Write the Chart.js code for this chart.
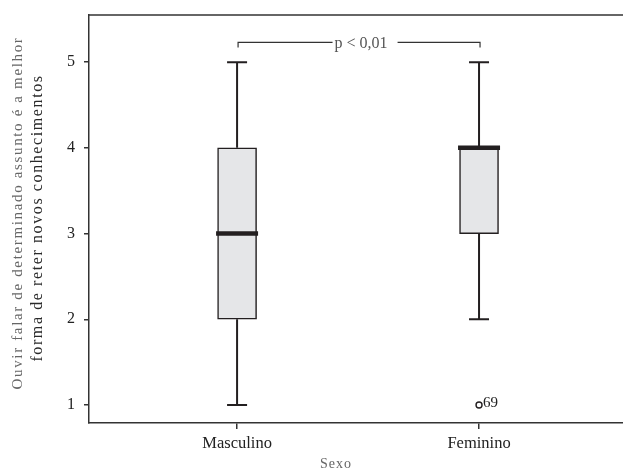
<!DOCTYPE html>
<html>
<head>
<meta charset="utf-8">
<script src="https://cdn.jsdelivr.net/npm/chart.js@4"></script>
<style>
  html, body { margin: 0; padding: 0; background: #fff; }
  #wrap { width: 623px; height: 469px; }
</style>
</head>
<body>
<div id="wrap"><canvas id="c" width="623" height="469"></canvas></div>
<script>
// Grupos e estatísticas dos box-plots
const sexo = ['Masculino', 'Feminino'];
const q1 = [2, 3];
const q3 = [4, 4];
const medianas = [3, 4];
const minimos = [1, 2];
const maximos = [5, 5];
const outlierGrupo = [2];
const outlierValor = [1];
const outlierCaso = ['69'];
const yTicks = [1, 2, 3, 4, 5];
const pTexto = 'p < 0,01';
const tituloY1 = 'Ouvir falar de determinado assunto é a melhor';
const tituloY2 = 'forma de reter novos conhecimentos';
const tituloX = 'Sexo';

const INK = '#231f20';
const SERIF = "'Liberation Serif', 'DejaVu Serif', serif";

// Bigodes, medianas, outliers, colchete de significância e títulos
const boxExtras = {
  id: 'boxExtras',
  afterDatasetsDraw(chart) {
    const { ctx } = chart;
    const xs = chart.scales.x, ys = chart.scales.y;
    ctx.save();
    ctx.strokeStyle = INK;
    ctx.lineCap = 'butt';
    sexo.forEach((s, i) => {
      const cx = xs.getPixelForValue(i + 1);
      // bigodes
      ctx.lineWidth = 2;
      ctx.beginPath();
      ctx.moveTo(cx, ys.getPixelForValue(q3[i]));
      ctx.lineTo(cx, ys.getPixelForValue(maximos[i]));
      ctx.moveTo(cx, ys.getPixelForValue(q1[i]));
      ctx.lineTo(cx, ys.getPixelForValue(minimos[i]));
      ctx.stroke();
      // extremidades
      ctx.beginPath();
      [maximos[i], minimos[i]].forEach(v => {
        const y = ys.getPixelForValue(v);
        ctx.moveTo(cx - 10, y);
        ctx.lineTo(cx + 10, y);
      });
      ctx.stroke();
      // mediana
      ctx.lineWidth = 4.5;
      ctx.beginPath();
      const ym = ys.getPixelForValue(medianas[i]);
      ctx.moveTo(cx - 21, ym);
      ctx.lineTo(cx + 21, ym);
      ctx.stroke();
    });
    // outliers
    ctx.lineWidth = 1.4;
    ctx.font = '15px ' + SERIF;
    ctx.fillStyle = '#222';
    ctx.textBaseline = 'middle';
    ctx.textAlign = 'left';
    outlierGrupo.forEach((g, k) => {
      const x = xs.getPixelForValue(g), y = ys.getPixelForValue(outlierValor[k]);
      ctx.beginPath();
      ctx.arc(x, y, 3, 0, Math.PI * 2);
      ctx.stroke();
      ctx.fillText(outlierCaso[k], x + 4, y - 2);
    });
    // colchete de significância
    const xa = xs.getPixelForValue(1) + 1, xb = xs.getPixelForValue(2) + 1;
    const yb = ys.getPixelForValue(5.23), yt = ys.getPixelForValue(5.17);
    ctx.font = '16px ' + SERIF;
    ctx.fillStyle = '#555';
    const tw = ctx.measureText(pTexto).width;
    const xm = (xa + xb) / 2 + 2;
    ctx.strokeStyle = '#333';
    ctx.lineWidth = 1.2;
    ctx.beginPath();
    ctx.moveTo(xa, yt); ctx.lineTo(xa, yb); ctx.lineTo(xm - tw / 2 - 2, yb);
    ctx.moveTo(xm + tw / 2 + 10, yb); ctx.lineTo(xb, yb); ctx.lineTo(xb, yt);
    ctx.stroke();
    ctx.textAlign = 'center';
    ctx.fillText(pTexto, xm, yb + 1);
    ctx.restore();
  },
  afterDraw(chart) {
    const { ctx, chartArea: a } = chart;
    ctx.save();
    // borda superior da área do gráfico
    ctx.strokeStyle = '#333';
    ctx.lineWidth = 1.5;
    ctx.beginPath();
    ctx.moveTo(a.left, a.top);
    ctx.lineTo(a.right, a.top);
    ctx.stroke();
    // título do eixo Y em duas linhas
    ctx.textAlign = 'center';
    ctx.textBaseline = 'middle';
    ctx.translate(18, 213);
    ctx.rotate(-Math.PI / 2);
    ctx.font = '15px ' + SERIF;
    ctx.fillStyle = '#666';
    ctx.letterSpacing = '1.65px';
    ctx.fillText(tituloY1, 0, 0);
    ctx.setTransform(1, 0, 0, 1, 0, 0);
    ctx.translate(38, 218);
    ctx.rotate(-Math.PI / 2);
    ctx.fillStyle = '#2a2a2a';
    ctx.letterSpacing = '1.6px';
    ctx.font = '16px ' + SERIF;
    ctx.fillText(tituloY2, 0, 0);
    ctx.setTransform(1, 0, 0, 1, 0, 0);
    // título do eixo X
    ctx.font = '14px ' + SERIF;
    ctx.fillStyle = '#666';
    ctx.letterSpacing = '1px';
    ctx.fillText(tituloX, 336, 464);
    ctx.restore();
  }
};

new Chart(document.getElementById('c'), {
  type: 'bar',
  data: {
    datasets: [{
      data: sexo.map((s, i) => ({ x: i + 1, y: [q1[i], q3[i]] })),
      backgroundColor: '#e5e6e8',
      borderColor: INK,
      borderWidth: 1.5,
      borderSkipped: false,
      barThickness: 39
    }]
  },
  options: {
    responsive: false,
    animation: false,
    events: [],
    layout: { padding: { left: 0, top: 15, right: 0, bottom: 0 } },
    plugins: { legend: { display: false }, tooltip: { enabled: false } },
    scales: {
      x: {
        type: 'linear',
        min: 0.388,
        max: 2.595,
        offset: false,
        afterFit: s => { s.height = 46; s.paddingLeft = 0; s.paddingRight = 0; },
        afterBuildTicks: s => { s.ticks = sexo.map((n, i) => ({ value: i + 1 })); },
        grid: { offset: false, drawOnChartArea: false, drawTicks: true, tickLength: 6, color: '#333', lineWidth: 1.5 },
        border: { display: true, color: '#333', width: 1.5 },
        ticks: {
          font: { family: SERIF, size: 16.5 },
          color: '#222',
          padding: 5,
          maxRotation: 0,
          callback: v => sexo[v - 1]
        }
      },
      y: {
        min: 0.79,
        max: 5.55,
        afterFit: s => { s.width = 89; s.paddingTop = 0; s.paddingBottom = 0; },
        afterBuildTicks: s => { s.ticks = yTicks.map(v => ({ value: v })); },
        grid: { drawOnChartArea: false, drawTicks: true, tickLength: 5, color: '#333', lineWidth: 1.5 },
        border: { display: true, color: '#333', width: 1.5 },
        ticks: {
          font: { family: SERIF, size: 16 },
          color: '#222',
          padding: 9
        }
      }
    }
  },
  plugins: [boxExtras]
});
</script>
</body>
</html>
